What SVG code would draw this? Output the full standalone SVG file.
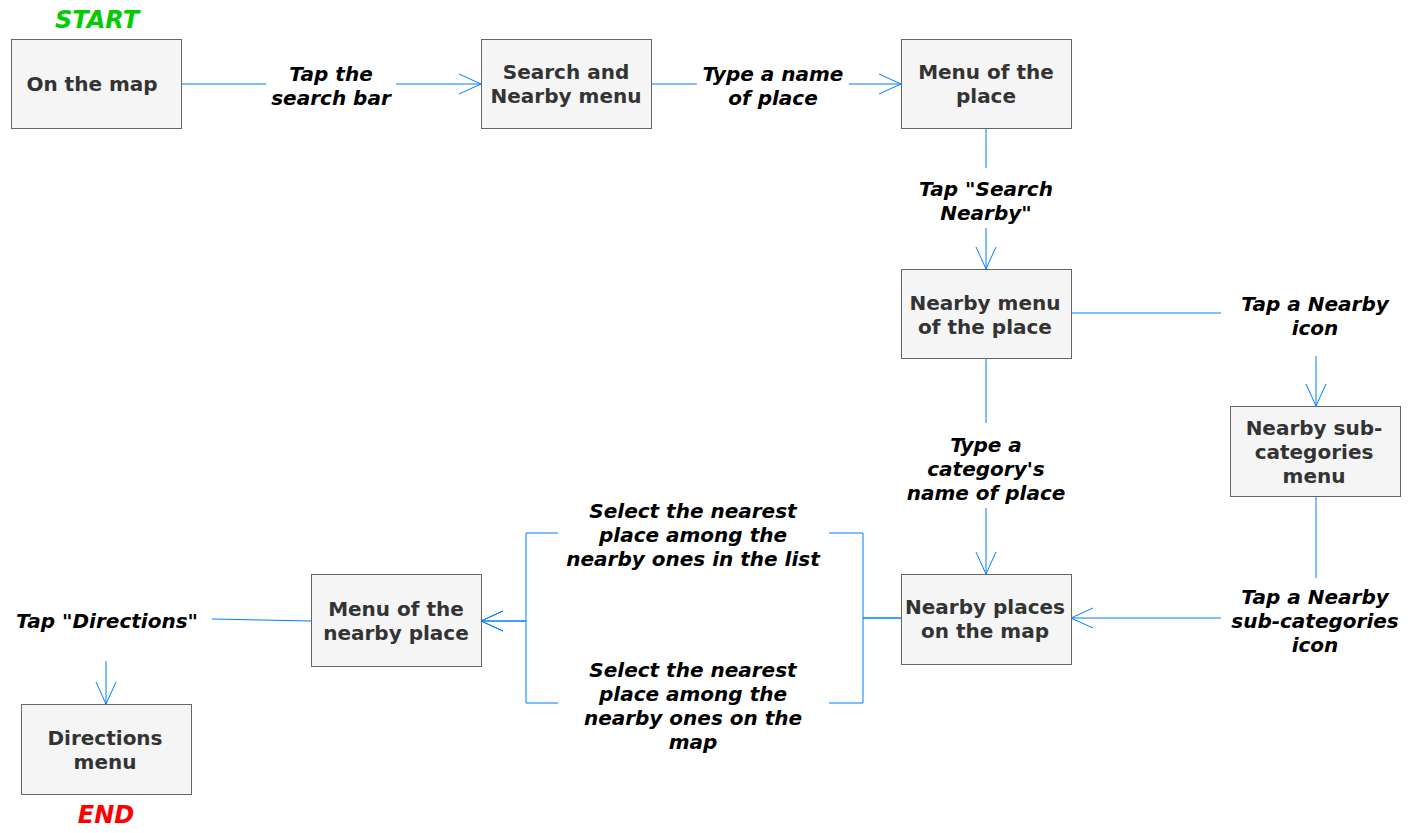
<svg xmlns="http://www.w3.org/2000/svg" width="1409" height="833" viewBox="0 0 1409 833">
<defs>
<marker id="arr" markerUnits="userSpaceOnUse" markerWidth="30" markerHeight="30" viewBox="-25 -15 30 30" refX="0" refY="0" orient="auto">
<path d="M-22,-10 L0,0 L-22,10" fill="none" stroke="#007FFF" stroke-width="1"/>
</marker>
<style>
.node rect{fill:#f5f5f5;stroke:#666666;stroke-width:1}
.node text{font-family:"DejaVu Sans",Verdana,sans-serif;font-weight:bold;font-size:20px;fill:#333333;text-anchor:middle}
.edges path{fill:none;stroke:#007FFF;stroke-width:1}
.lbl{font-family:"DejaVu Sans",Verdana,sans-serif;font-weight:bold;font-style:italic;font-size:20px;fill:#000000;text-anchor:middle}
.term{font-family:"DejaVu Sans",Verdana,sans-serif;font-weight:bold;font-style:italic;font-size:24px;text-anchor:middle}
</style>
</defs>
<rect x="0" y="0" width="1409" height="833" fill="#ffffff"/>

<g class="edges" id="connectors">
<path d="M181,84 H266"/>
<path d="M396,84 H481" marker-end="url(#arr)"/>
<path d="M651,84 H697"/>
<path d="M849,84 H901" marker-end="url(#arr)"/>
<path d="M986,129 V168"/>
<path d="M986,228 V269" marker-end="url(#arr)"/>
<path d="M1071,313 H1221"/>
<path d="M1316,356 V406" marker-end="url(#arr)"/>
<path d="M986,359 V423"/>
<path d="M986,508 V574" marker-end="url(#arr)"/>
<path d="M1316,496 V578"/>
<path d="M1221,618 H1071" marker-end="url(#arr)"/>
<path d="M901,618 H863 V533 H829"/>
<path d="M558,533 H526 V621 H481" marker-end="url(#arr)"/>
<path d="M901,618 H863 V703 H829"/>
<path d="M558,703 H526 V621 H481" marker-end="url(#arr)"/>
<path d="M311,621 L212,619"/>
<path d="M106,661 V704" marker-end="url(#arr)"/>
</g>

<g id="labels">
<text class="lbl" x="331" y="81">Tap the</text>
<text class="lbl" x="331" y="105">search bar</text>
<text class="lbl" x="773" y="81">Type a name</text>
<text class="lbl" x="773" y="105">of place</text>
<text class="lbl" x="986" y="196">Tap "Search</text>
<text class="lbl" x="986" y="220">Nearby"</text>
<text class="lbl" x="1315" y="311">Tap a Nearby</text>
<text class="lbl" x="1315" y="335">icon</text>
<text class="lbl" x="986" y="452">Type a</text>
<text class="lbl" x="986" y="476">category's</text>
<text class="lbl" x="986" y="500">name of place</text>
<text class="lbl" x="1315" y="604">Tap a Nearby</text>
<text class="lbl" x="1315" y="628">sub-categories</text>
<text class="lbl" x="1315" y="652">icon</text>
<text class="lbl" x="693" y="518">Select the nearest</text>
<text class="lbl" x="693" y="542">place among the</text>
<text class="lbl" x="693" y="566">nearby ones in the list</text>
<text class="lbl" x="693" y="677">Select the nearest</text>
<text class="lbl" x="693" y="701">place among the</text>
<text class="lbl" x="693" y="725">nearby ones on the</text>
<text class="lbl" x="693" y="749">map</text>
<text class="lbl" x="107" y="628">Tap "Directions"</text>
</g>

<text class="term" x="97" y="28" fill="#00CC00">START</text>
<text class="term" x="106" y="823" fill="#FF0000">END</text>

<g class="node" id="on-the-map">
<rect x="11.5" y="39.5" width="170" height="89"/>
<text x="92" y="91">On the map</text>
</g>
<g class="node" id="search-nearby-menu">
<rect x="481.5" y="39.5" width="170" height="89"/>
<text x="566" y="79">Search and</text>
<text x="566" y="103">Nearby menu</text>
</g>
<g class="node" id="menu-of-place">
<rect x="901.5" y="39.5" width="170" height="89"/>
<text x="986" y="79">Menu of the</text>
<text x="986" y="103">place</text>
</g>
<g class="node" id="nearby-menu-of-place">
<rect x="901.5" y="269.5" width="170" height="89"/>
<text x="985" y="310">Nearby menu</text>
<text x="985" y="334">of the place</text>
</g>
<g class="node" id="nearby-subcategories-menu">
<rect x="1230.5" y="406.5" width="170" height="90"/>
<text x="1314" y="435">Nearby sub-</text>
<text x="1314" y="459">categories</text>
<text x="1314" y="483">menu</text>
</g>
<g class="node" id="nearby-places-map">
<rect x="901.5" y="574.5" width="170" height="90"/>
<text x="985" y="614">Nearby places</text>
<text x="985" y="638">on the map</text>
</g>
<g class="node" id="menu-nearby-place">
<rect x="311.5" y="574.5" width="170" height="92"/>
<text x="396" y="616">Menu of the</text>
<text x="396" y="640">nearby place</text>
</g>
<g class="node" id="directions-menu">
<rect x="21.5" y="704.5" width="170" height="90"/>
<text x="105" y="745">Directions</text>
<text x="105" y="769">menu</text>
</g>
</svg>
